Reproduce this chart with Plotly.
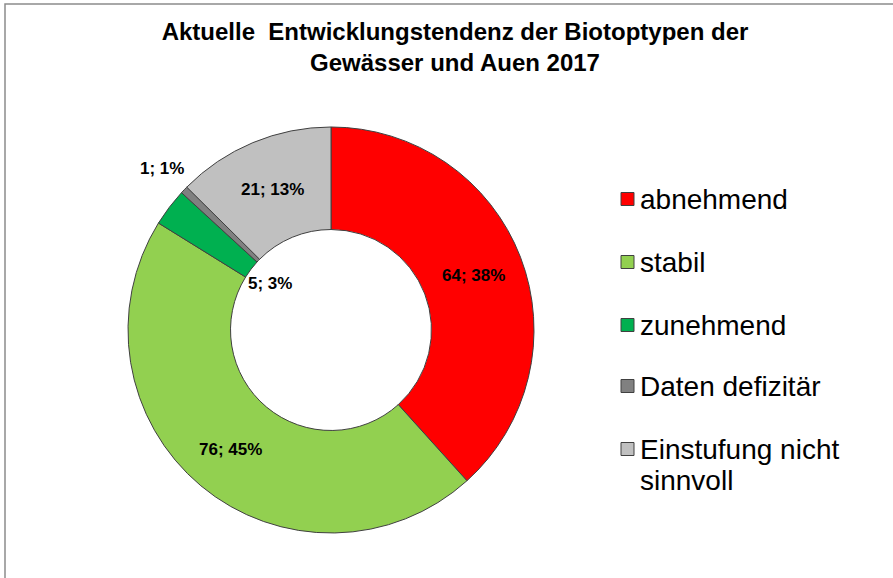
import math
import plotly.graph_objects as go

# ---- data ----
categories = ["abnehmend", "stabil", "zunehmend", "Daten defizitär", "Einstufung nicht sinnvoll"]
legend_lines = [["abnehmend"], ["stabil"], ["zunehmend"], ["Daten defizitär"], ["Einstufung nicht", "sinnvoll"]]
values = [64, 76, 5, 1, 21]
percent_labels = [38, 45, 3, 1, 13]
colors = ["#FF0000", "#92D050", "#00B050", "#808080", "#C0C0C0"]

title_text = "<b>Aktuelle  Entwicklungstendenz der Biotoptypen der<br>Gewässer und Auen 2017</b>"

# ---- layout config ----
W, H = 893, 578
FONT = "Liberation Sans, Arial, sans-serif"


def px(x):
    return x / W


def py(y):
    return 1 - y / H


cx_px, cy_px, R_px = 331, 330, 203          # pie centre / outer radius (pixels)
label_r = [0.75, 0.77, 0.375, 1.15, 0.75]    # label distance as fraction of outer radius

fig = go.Figure()
fig.add_trace(go.Pie(
    labels=categories,
    values=values,
    hole=0.495,
    sort=False,
    direction="clockwise",
    rotation=0,
    marker=dict(colors=colors, line=dict(color="#404040", width=1)),
    textinfo="none",
    hoverinfo="label+value+percent",
    showlegend=False,
    domain=dict(x=[px(cx_px - R_px), px(cx_px + R_px)],
                y=[py(cy_px + R_px), py(cy_px - R_px)]),
))

annotations = []
shapes = []

# data labels positioned from slice mid-angles
total = sum(values)
cum = 0
for v, p, rf in zip(values, percent_labels, label_r):
    mid = (cum + v / 2) / total * 2 * math.pi
    cum += v
    dx = math.sin(mid) * R_px * rf
    dy = math.cos(mid) * R_px * rf
    annotations.append(dict(
        x=px(cx_px + dx), y=py(cy_px - dy), xref="paper", yref="paper",
        text=f"<b>{v}; {p}%</b>", showarrow=False,
        font=dict(family=FONT, size=17, color="black"),
        xanchor="center", yanchor="middle",
    ))

# manual legend
leg_y = [199, 262, 325, 386, 449]
line_gap = 31
leg_text_x = 638
sq = 13
for lines, col, yy in zip(legend_lines, colors, leg_y):
    shapes.append(dict(
        type="rect", xref="paper", yref="paper",
        x0=px(621), x1=px(621 + sq),
        y0=py(yy + sq / 2), y1=py(yy - sq / 2),
        fillcolor=col, line=dict(color="#404040", width=1),
    ))
    for k, ln in enumerate(lines):
        annotations.append(dict(
            x=px(leg_text_x), y=py(yy + k * line_gap), xref="paper", yref="paper",
            text=ln, showarrow=False, align="left",
            font=dict(family=FONT, size=28, color="black"),
            xanchor="left", yanchor="middle",
        ))

# chart frame (extends beyond right/bottom edges)
shapes.append(dict(
    type="rect", xref="paper", yref="paper",
    x0=px(5), x1=1.05, y0=-0.05, y1=py(4),
    line=dict(color="#8C8C8C", width=1.5), fillcolor="rgba(0,0,0,0)", layer="above",
))

fig.update_layout(
    width=W, height=H,
    margin=dict(l=0, r=0, t=0, b=0),
    paper_bgcolor="white", plot_bgcolor="white",
    title=dict(text=title_text, x=px(455), xanchor="center", y=py(40), yanchor="middle",
               font=dict(family=FONT, size=24, color="black")),
    annotations=annotations,
    shapes=shapes,
)

fig.write_html("out.html", config={"displayModeBar": False},
               post_script="document.body.style.margin='0';")
